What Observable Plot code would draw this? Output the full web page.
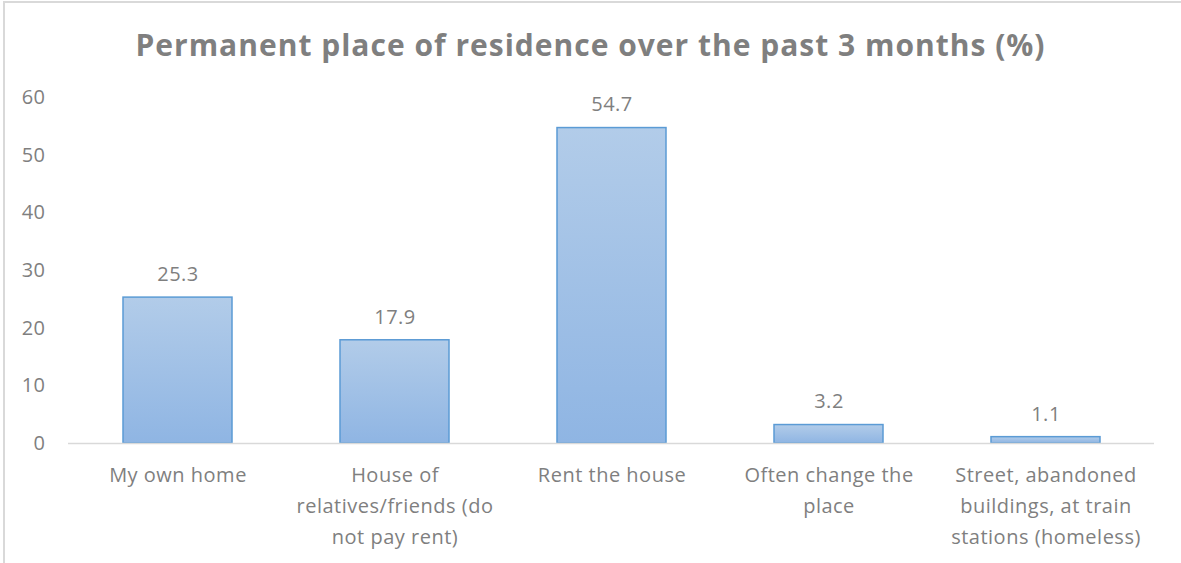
<!DOCTYPE html>
<html><head><meta charset="utf-8">
<script src="https://cdn.jsdelivr.net/npm/d3@7"></script>
<script src="https://cdn.jsdelivr.net/npm/@observablehq/plot@0.6"></script>
<style>
body{margin:0;background:#fff;}
#wrap{position:relative;width:1181px;height:563px;overflow:hidden;background:#fff;}
#frame{position:absolute;left:3px;top:1px;width:1300px;height:700px;border-left:2px solid #d9d9d9;border-top:2px solid #d9d9d9;box-sizing:border-box;}
#title{position:absolute;left:0;top:27px;width:1181px;text-align:center;font-family:"Open Sans",sans-serif;font-weight:bold;font-size:30px;line-height:36px;letter-spacing:1px;color:#7f7f7f;}
#chart{position:absolute;left:0;top:0;}
</style></head>
<body>
<div id="wrap"><div id="frame"></div><div id="title">Permanent place of residence over the past 3 months (%)</div><div id="chart"></div></div>
<script>
const categories = ["My own home", "House of relatives/friends (do not pay rent)", "Rent the house", "Often change the place", "Street, abandoned buildings, at train stations (homeless)"];
const tickLabels = ["My own home", "House of\nrelatives/friends (do\nnot pay rent)", "Rent the house", "Often change the\nplace", "Street, abandoned\nbuildings, at train\nstations (homeless)"];
const values = [25.3, 17.9, 54.7, 3.2, 1.1];
const yTicks = [0, 10, 20, 30, 40, 50, 60];

const data = categories.map((c, i) => ({category: c, value: values[i]}));
const labelOf = new Map(categories.map((c, i) => [c, tickLabels[i]]));

const plot = Plot.plot({
  width: 1181, height: 563,
  marginTop: 97, marginBottom: 120, marginLeft: 68, marginRight: 27,
  style: {fontFamily: "'Open Sans', sans-serif", fontSize: "20px", letterSpacing: "0.5px", color: "#7f7f7f", background: "transparent", overflow: "visible"},
  x: {domain: categories, paddingInner: 0.5, paddingOuter: 0.25, label: null},
  y: {domain: [0, 60], label: null},
  marks: [
    Plot.axisY({ticks: yTicks, tickSize: 0, tickPadding: 23, fontSize: 20, fill: "#7f7f7f", label: null}),
    Plot.axisX({tickSize: 0, tickPadding: 16, tickFormat: d => labelOf.get(d), fontSize: 20, lineHeight: 1.55, fill: "#7f7f7f", label: null}),
    Plot.barY(data, {x: "category", y: "value", fill: "url(#barGrad)", stroke: "#5b9bd5", strokeWidth: 1.5}),
    Plot.ruleY([0], {stroke: "#d9d9d9", strokeWidth: 1.5}),
    Plot.text(data, {x: "category", y: "value", text: d => d.value.toFixed(1), dy: -23, fontSize: 20, fill: "#7f7f7f"})
  ]
});
const defs = d3.select(plot).insert("defs", ":first-child");
const g = defs.append("linearGradient").attr("id", "barGrad").attr("x1", 0).attr("y1", 0).attr("x2", 0).attr("y2", 1);
g.append("stop").attr("offset", "0%").attr("stop-color", "#b2cce9");
g.append("stop").attr("offset", "100%").attr("stop-color", "#8fb5e3");
document.getElementById("chart").appendChild(plot);
</script>
</body></html>
